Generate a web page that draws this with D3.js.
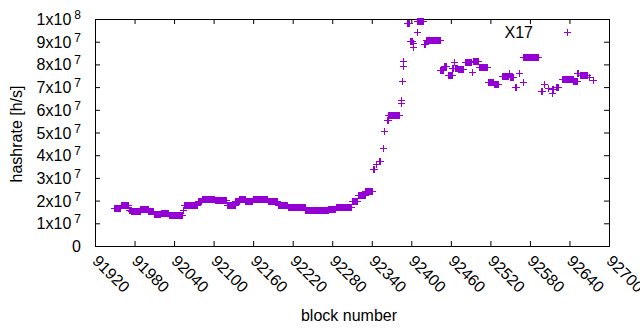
<!DOCTYPE html>
<html>
<head>
<meta charset="utf-8">
<script src="https://cdn.jsdelivr.net/npm/d3@7"></script>
<style>
body { margin: 0; background: #fff; }
text { font-family: "Liberation Sans", Arial, sans-serif; }
</style>
</head>
<body>
<svg id="chart"></svg>
<script>
// runs of blocks with the same hashrate (from block, to block, value)
var runFrom = [91949, 91959, 91971, 91975, 91989, 92001, 92009, 92020, 92032, 92053,
               92055, 92076, 92082, 92102, 92120, 92133, 92139, 92148, 92160, 92182,
               92197, 92213, 92239, 92274, 92285, 92310, 92319, 92330, 92342, 92346,
               92351, 92357, 92358, 92363, 92365, 92384, 92385, 92386, 92387, 92388,
               92394, 92398, 92402, 92403, 92408, 92409, 92420, 92423, 92444, 92449,
               92455, 92462, 92465, 92466, 92471, 92482, 92492, 92493, 92502, 92517,
               92525, 92538, 92548, 92550, 92558, 92563, 92569, 92570, 92597, 92601,
               92607, 92613, 92614, 92620, 92629, 92646, 92652, 92656, 92669, 92675];
var runTo   = [91958, 91970, 91974, 91988, 92000, 92008, 92019, 92031, 92052, 92054,
               92075, 92081, 92101, 92119, 92132, 92138, 92147, 92159, 92181, 92196,
               92212, 92238, 92273, 92284, 92309, 92318, 92329, 92340, 92344, 92347,
               92352, 92357, 92359, 92364, 92382, 92384, 92385, 92386, 92387, 92388,
               92397, 92401, 92402, 92403, 92408, 92418, 92421, 92443, 92448, 92452,
               92461, 92464, 92465, 92469, 92478, 92491, 92492, 92501, 92515, 92524,
               92531, 92547, 92548, 92554, 92559, 92564, 92569, 92592, 92598, 92602,
               92608, 92613, 92615, 92622, 92645, 92651, 92653, 92666, 92670, 92676];
var runHashrate = [1.68e7, 1.79e7, 1.57e7, 1.53e7, 1.63e7, 1.53e7, 1.43e7, 1.46e7, 1.38e7, 1.57e7,
                   1.79e7, 1.97e7, 2.07e7, 2.02e7, 1.82e7, 1.97e7, 2.09e7, 2.00e7, 2.06e7, 1.97e7,
                   1.82e7, 1.72e7, 1.57e7, 1.63e7, 1.72e7, 1.97e7, 2.26e7, 2.41e7, 3.40e7, 3.60e7,
                   3.75e7, 4.30e7, 5.07e7, 5.56e7, 5.77e7, 6.30e7, 6.44e7, 7.27e7, 7.93e7, 8.15e7,
                   9.84e7, 9.03e7, 8.93e7, 8.75e7, 9.41e7, 9.91e7, 8.89e7, 9.06e7, 7.76e7, 7.93e7,
                   7.54e7, 7.83e7, 8.12e7, 7.83e7, 7.80e7, 8.11e7, 7.66e7, 8.13e7, 7.88e7, 7.24e7,
                   7.13e7, 7.49e7, 7.61e7, 7.44e7, 7.00e7, 7.61e7, 7.24e7, 8.31e7, 6.85e7, 7.14e7,
                   6.95e7, 6.73e7, 6.91e7, 7.02e7, 7.35e7, 7.29e7, 7.61e7, 7.55e7, 7.44e7, 7.32e7];

var xTicks = [91920, 91980, 92040, 92100, 92160, 92220, 92280, 92340, 92400, 92460, 92520, 92580, 92640, 92700];
var yTicks = [0, 1e7, 2e7, 3e7, 4e7, 5e7, 6e7, 7e7, 8e7, 9e7, 1e8];
var seriesName = "X17";

function drawChart() {
    var width = 640, height = 330;
    var left = 95, right = 609, top = 19, bottom = 246;
    var color = "#9400d3";

    var svg = d3.select("#chart").attr("width", width).attr("height", height);

    var xScale = d3.scaleLinear().domain([91920, 92700]).range([left, right]);
    var yScale = d3.scaleLinear().domain([0, 1e8]).range([bottom, top]);

    // expand runs into one point per block
    var points = [];
    runFrom.forEach(function(from, i) {
        for (var b = from; b <= runTo[i]; b++) points.push({block: b, value: runHashrate[i]});
    });

    var tick = 5;

    var yAxis = svg.append("g").attr("transform", "translate(" + left + ",0)")
        .call(d3.axisLeft(yScale).tickValues(yTicks).tickSizeInner(-tick).tickSizeOuter(0).tickPadding(14)
              .tickFormat(function() { return ""; }));
    yAxis.selectAll(".tick text").each(function(d) {
        var t = d3.select(this).attr("dy", null).attr("y", 5.5)
            .attr("font-size", 16).attr("fill", "#000");
        if (d === 0) { t.text("0"); return; }
        var exp = Math.floor(Math.log10(d) + 1e-9);
        var mant = Math.round(d / Math.pow(10, exp));
        t.append("tspan").text(mant + "x10");
        t.append("tspan").attr("dx", 3).attr("dy", -6).attr("font-size", 12).text(exp);
    });

    svg.append("g").attr("transform", "translate(" + right + ",0)")
        .call(d3.axisRight(yScale).tickValues(yTicks).tickSizeInner(-tick).tickSizeOuter(0).tickFormat(""));

    var xAxis = svg.append("g").attr("transform", "translate(0," + bottom + ")")
        .call(d3.axisBottom(xScale).tickValues(xTicks).tickSizeInner(-tick).tickSizeOuter(0)
              .tickFormat(d3.format("d")));
    xAxis.selectAll(".tick text")
        .attr("x", 0).attr("y", 0).attr("dy", "0.35em")
        .attr("text-anchor", "start")
        .attr("transform", "translate(0,12) rotate(45)")
        .attr("font-size", 16).attr("fill", "#000");

    svg.append("g").attr("transform", "translate(0," + top + ")")
        .call(d3.axisTop(xScale).tickValues(xTicks).tickSizeInner(-tick).tickSizeOuter(0).tickFormat(""));

    svg.selectAll(".domain").remove();
    svg.selectAll(".tick line").attr("stroke", "#000");

    svg.append("rect")
        .attr("x", left + 0.5).attr("y", top + 0.5)
        .attr("width", right - left).attr("height", bottom - top)
        .attr("fill", "none").attr("stroke", "#000").attr("stroke-width", 1);

    var plus = "M-3.5,0H3.5M0,-3.5V3.5";

    svg.append("g").selectAll("path").data(points).enter().append("path")
        .attr("transform", function(d) {
            return "translate(" + (Math.round(xScale(d.block)) + 0.5) + "," + (Math.round(yScale(d.value)) + 0.5) + ")";
        })
        .attr("d", plus)
        .attr("fill", "none").attr("stroke", color).attr("stroke-width", 1);

    // key
    svg.append("text").attr("x", 533).attr("y", 38).attr("text-anchor", "end")
        .attr("font-size", 16).attr("fill", "#000").text(seriesName);
    svg.append("path").attr("transform", "translate(567.5,32.5)").attr("d", plus)
        .attr("fill", "none").attr("stroke", color).attr("stroke-width", 1);

    // axis titles
    svg.append("text").attr("x", 349).attr("y", 321).attr("text-anchor", "middle")
        .attr("font-size", 16).attr("fill", "#000").text("block number");
    svg.append("text").attr("transform", "translate(22,134) rotate(-90)").attr("text-anchor", "middle")
        .attr("font-size", 16).attr("fill", "#000").text("hashrate [h/s]");
}

drawChart();
</script>
</body>
</html>
